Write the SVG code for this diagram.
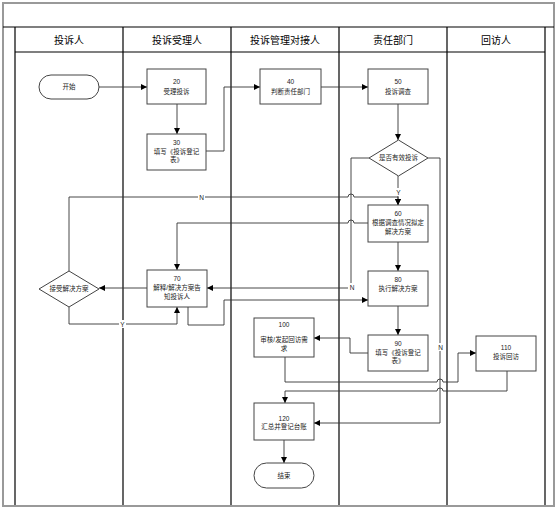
<svg xmlns="http://www.w3.org/2000/svg" width="557" height="510" viewBox="0 0 557 510">
<defs>
<marker id="arr" markerUnits="userSpaceOnUse" markerWidth="7" markerHeight="7" refX="6" refY="3" orient="auto"><path d="M0,0 L6,3 L0,6 z" fill="#000"/></marker>
</defs>
<style>
.lane{stroke:#000;stroke-width:1.2;fill:none}
.hdr{font-family:"Liberation Sans","Noto Sans CJK SC",sans-serif;font-size:10px;fill:#000;text-anchor:middle}
.nd{fill:#fff;stroke:#444;stroke-width:1}
.t{font-family:"Liberation Sans","Noto Sans CJK SC",sans-serif;font-size:6.5px;fill:#222;text-anchor:middle}
.c{fill:none;stroke:#333;stroke-width:0.9}
.ca{fill:none;stroke:#333;stroke-width:0.9;marker-end:url(#arr)}
.lb{font-family:"Liberation Sans","Noto Sans CJK SC",sans-serif;font-size:6.5px;fill:#222;text-anchor:middle}
</style>
<rect x="0" y="0" width="557" height="510" fill="#fff"/>
<g id="pool">
<rect x="3" y="3" width="551" height="503" fill="none" stroke="#999" stroke-width="2"/>
<line class="lane" x1="3" y1="27" x2="554" y2="27"/>
<line class="lane" x1="15" y1="52" x2="545" y2="52"/>
<line class="lane" x1="15" y1="27" x2="15" y2="505"/>
<line class="lane" x1="123" y1="27" x2="123" y2="505"/>
<line class="lane" x1="231" y1="27" x2="231" y2="505"/>
<line class="lane" x1="339" y1="27" x2="339" y2="505"/>
<line class="lane" x1="447" y1="27" x2="447" y2="505"/>
<line class="lane" x1="545" y1="27" x2="545" y2="505"/>
<text class="hdr" x="69" y="43.5">投诉人</text>
<text class="hdr" x="177" y="43.5">投诉受理人</text>
<text class="hdr" x="285" y="43.5">投诉管理对接人</text>
<text class="hdr" x="393" y="43.5">责任部门</text>
<text class="hdr" x="496" y="43.5">回访人</text>
</g>
<g id="connectors">
<path class="ca" d="M99,87 L147,87"/>
<path class="ca" d="M177,104 L177,134"/>
<path class="ca" d="M206,151 L224,151 L224,87 L260,87"/>
<path class="ca" d="M321,87 L368,87"/>
<path class="ca" d="M398,104 L398,140"/>
<path class="ca" d="M398,176 L398,205"/>
<path class="ca" d="M369,158 L351,158 L351,288 L207,288"/>
<path class="ca" d="M428,158 L440,158 L440,423 L314,423"/>
<path class="ca" d="M69,271 L69,197 L348,197 A3,3 0 0 1 354,197 L398,197 L398,205"/>
<path class="ca" d="M368,223 L354,223 A3,3 0 0 0 348,223 L177,223 L177,270"/>
<path class="ca" d="M398,242 L398,271"/>
<path class="ca" d="M398,306 L398,335"/>
<path class="ca" d="M147,288 L99,288"/>
<path class="ca" d="M69,307 L69,324 L177,324 L177,307"/>
<path class="ca" d="M188,307 L188,325 L224,325 L224,300 L368,300"/>
<path class="ca" d="M368,353 L350,353 L350,338 L314,338"/>
<path class="ca" d="M285,357 L285,382 L437,382 A3,3 0 0 1 443,382 L458,382 L458,353 L476,353"/>
<path class="ca" d="M507,371 L507,391 L443,391 A3,3 0 0 0 437,391 L285,391 L285,403"/>
<path class="ca" d="M284,440 L284,463"/>
<rect x="198" y="193" width="7" height="8" fill="#fff"/>
<text class="lb" x="201.5" y="199.5">N</text>
<rect x="395" y="188" width="7" height="8" fill="#fff"/>
<text class="lb" x="398.5" y="194.5">Y</text>
<rect x="348" y="283" width="7" height="8" fill="#fff"/>
<text class="lb" x="352" y="290">N</text>
<rect x="437" y="343" width="7" height="8" fill="#fff"/>
<text class="lb" x="440.5" y="349.5">N</text>
<rect x="119" y="320" width="7" height="8" fill="#fff"/>
<text class="lb" x="122.5" y="326.5">Y</text>
</g>
<g id="start"><rect class="nd" x="39" y="75" width="60" height="24" rx="12"/><text class="t" x="69" y="89.3">开始</text></g>
<g id="n20"><rect class="nd" x="147" y="69" width="59" height="35"/><text class="t" x="176.5" y="84">20</text><text class="t" x="176.5" y="93.5">受理投诉</text></g>
<g id="n30"><rect class="nd" x="147" y="134" width="59" height="36"/><text class="t" x="176.5" y="145">30</text><text class="t" x="176.5" y="153.5">填写《投诉登记</text><text class="t" x="176.5" y="162">表》</text></g>
<g id="n40"><rect class="nd" x="260" y="69" width="61" height="35"/><text class="t" x="290.5" y="84">40</text><text class="t" x="290.5" y="93.5">判断责任部门</text></g>
<g id="n50"><rect class="nd" x="368" y="69" width="60" height="35"/><text class="t" x="398" y="84">50</text><text class="t" x="398" y="93.5">投诉调查</text></g>
<g id="d1"><path class="nd" d="M398.5,140 L428,158 L398.5,176 L369,158 z"/><text class="t" x="398.5" y="160.3">是否有效投诉</text></g>
<g id="n60"><rect class="nd" x="368" y="205" width="60" height="37"/><text class="t" x="398" y="216">60</text><text class="t" x="398" y="225">根据调查情况拟定</text><text class="t" x="398" y="234">解决方案</text></g>
<g id="n70"><rect class="nd" x="147" y="270" width="60" height="37"/><text class="t" x="177" y="281">70</text><text class="t" x="177" y="290">解释/解决方案告</text><text class="t" x="177" y="299">知投诉人</text></g>
<g id="d2"><path class="nd" d="M69,271 L99,289 L69,307 L39,289 z"/><text class="t" x="69" y="291.3">接受解决方案</text></g>
<g id="n80"><rect class="nd" x="368" y="271" width="60" height="35"/><text class="t" x="398" y="282">80</text><text class="t" x="398" y="290.5">执行解决方案</text></g>
<g id="n90"><rect class="nd" x="368" y="335" width="60" height="36"/><text class="t" x="398" y="346">90</text><text class="t" x="398" y="354.5">填写《投诉登记</text><text class="t" x="398" y="363">表》</text></g>
<g id="n100"><rect class="nd" x="254" y="318" width="60" height="39"/><text class="t" x="284" y="326.5">100</text><text class="t" x="284" y="342">审核/发起回访需</text><text class="t" x="284" y="351">求</text></g>
<g id="n110"><rect class="nd" x="476" y="336" width="60" height="35"/><text class="t" x="506" y="350">110</text><text class="t" x="506" y="359">投诉回访</text></g>
<g id="n120"><rect class="nd" x="254" y="403" width="60" height="37"/><text class="t" x="284" y="420.5">120</text><text class="t" x="284" y="429">汇总并登记台账</text></g>
<g id="end"><rect class="nd" x="254" y="463" width="60" height="25" rx="12.5"/><text class="t" x="284" y="477.8">结束</text></g>
</svg>
